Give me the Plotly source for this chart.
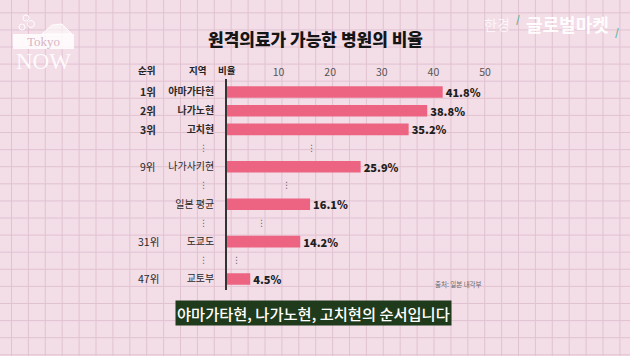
import plotly.graph_objects as go

# ---- data ----
rows = [0, 1, 2, 4, 6, 8, 10]
regions = ["야마가타현", "나가노현", "고치현", "나가사키현", "일본 평균", "도쿄도", "교토부"]
ranks = ["1위", "2위", "3위", "9위", "", "31위", "47위"]
bold_rows = [True, True, True, False, False, False, False]
values = [41.8, 38.8, 35.2, 25.9, 16.1, 14.2, 4.5]
tick_vals = [10, 20, 30, 40, 50]
dot_rows = [3, 5, 7, 9]
dot_x = [16.3, 11.6, 6.6, 1.9]

W, H = 630, 356
FONT = "Noto Sans CJK KR"
BG = "#f3dde7"
GRID = "#e1c2d1"
BAR = "#ec6482"


def px(x):
    return x / W


def py(y):
    return 1 - y / H


fig = go.Figure()

fig.add_trace(go.Bar(
    x=values, y=rows, orientation="h",
    marker=dict(color=BAR, line=dict(width=0)),
    width=0.62,
    texttemplate="%{x}%", textposition="outside", constraintext="none",
    textfont=dict(family=FONT, size=11, color="#1e1e1e", weight=900),
    cliponaxis=False, hoverinfo="skip",
))

ticktext = [f"<b>{r}</b>" if b else r for r, b in zip(regions, bold_rows)]

fig.update_layout(
    width=W, height=H, autosize=False,
    margin=dict(l=0, r=0, t=0, b=0),
    paper_bgcolor=BG, plot_bgcolor="rgba(0,0,0,0)",
    showlegend=False,
    font=dict(family=FONT, color="#333"),
    xaxis=dict(domain=[px(227), px(614)], range=[0, 75], side="top",
               tickvals=tick_vals, ticks="", showgrid=False, zeroline=False,
               showline=False, tickfont=dict(size=10.5, color="#555"),
               fixedrange=True),
    yaxis=dict(domain=[py(290.2), py(78.9)], range=[10.6, -0.7],
               tickvals=rows, ticktext=ticktext, ticks="",
               ticklabelstandoff=9, showgrid=False, zeroline=False,
               showline=True, linecolor="#333", linewidth=1.5,
               tickfont=dict(size=10, color="#2a2a2a"), fixedrange=True),
)

shapes = []
# background grid paper
x = 11.5
while x < W:
    shapes.append(dict(type="line", xref="paper", yref="paper", x0=px(x), x1=px(x),
                       y0=0, y1=1, line=dict(color=GRID, width=1), layer="below"))
    x += 16.9
y = 12.8
while y < H:
    shapes.append(dict(type="line", xref="paper", yref="paper", x0=0, x1=1,
                       y0=py(y), y1=py(y), line=dict(color=GRID, width=1), layer="below"))
    y += 17.1

# Tokyo NOW logo
shapes.append(dict(type="rect", xref="paper", yref="paper", x0=px(13), x1=px(74),
                   y0=py(49), y1=py(34), fillcolor="rgba(255,255,255,0.85)",
                   line=dict(width=0), layer="below"))
shapes.append(dict(type="path", xref="paper", yref="paper",
                   path=f"M {px(42)} {py(34)} L {px(52)} {py(25)} L {px(62)} {py(24)} L {px(72)} {py(34)} Z",
                   fillcolor="rgba(255,255,255,0.6)", line=dict(color="rgba(255,255,255,0.9)", width=1),
                   layer="below"))
for cx, cy, r in [(26, 18, 3), (31, 24, 3.5), (22, 27, 3)]:
    shapes.append(dict(type="circle", xref="paper", yref="paper",
                       x0=px(cx - r), x1=px(cx + r), y0=py(cy + r), y1=py(cy - r),
                       line=dict(color="rgba(255,255,255,0.9)", width=1), layer="below"))

fig.update_layout(shapes=shapes)

C = dict(xanchor="center", yanchor="middle", showarrow=False)
ann = []
# title
ann.append(dict(text="원격의료가 가능한 병원의 비율", x=px(315), y=py(38),
                xref="paper", yref="paper", **C,
                font=dict(family=FONT, size=17, color="#151515", weight=900)))
# header
for t, xx in [("순위", 146), ("지역", 197), ("비율", 227)]:
    ann.append(dict(text=f"<b>{t}</b>", x=px(xx), y=py(70), xref="paper", yref="paper",
                    **C, font=dict(family=FONT, size=9.5, color="#222")))
# rank labels
for rk, rw, b in zip(ranks, rows, bold_rows):
    if rk:
        ann.append(dict(text=f"<b>{rk}</b>" if b else rk, x=px(148), y=rw,
                        xref="paper", yref="y", **C,
                        font=dict(family=FONT, size=10.5, color="#2a2a2a")))
# ellipsis dots
for rw, dx in zip(dot_rows, dot_x):
    ann.append(dict(text="⋮", x=px(203), y=rw, xref="paper", yref="y", **C,
                    font=dict(family="DejaVu Sans", size=9, color="#666")))
    ann.append(dict(text="⋮", x=dx, y=rw, xref="x", yref="y", **C,
                    font=dict(family="DejaVu Sans", size=9, color="#666")))
# source
ann.append(dict(text="출처: 일본 내각부", x=px(458), y=py(284), xref="paper", yref="paper",
                **C, font=dict(family=FONT, size=6.5, color="#666")))
# subtitle
ann.append(dict(text="야마가타현, 나가노현, 고치현의 순서입니다", x=px(313.5), y=py(313),
                xref="paper", yref="paper", **C, bgcolor="#1f3b1b",
                borderpad=1, font=dict(family=FONT, size=15.3, color="white", weight=500)))
# logo texts
ann.append(dict(text="Tokyo", x=px(43.5), y=py(41.5), xref="paper", yref="paper", **C,
                font=dict(family="Liberation Serif", size=13, color="#d9b3c4")))
ann.append(dict(text="NOW", x=px(43.5), y=py(61), xref="paper", yref="paper", **C,
                font=dict(family="Liberation Serif", size=23, color="rgba(255,255,255,0.9)")))
ann.append(dict(text="한경", x=px(497), y=py(24), xref="paper", yref="paper", **C,
                font=dict(family=FONT, size=14, color="rgba(255,255,255,0.75)")))
ann.append(dict(text="<b>글로벌마켓</b>", x=px(567), y=py(24), xref="paper", yref="paper",
                **C, font=dict(family=FONT, size=18, color="rgba(255,255,255,0.95)")))
ann.append(dict(text="<b>/</b>", x=px(518), y=py(18), xref="paper", yref="paper", **C,
                font=dict(family=FONT, size=10, color="#5ab89a")))
ann.append(dict(text="<b>/</b>", x=px(617), y=py(31), xref="paper", yref="paper", **C,
                font=dict(family=FONT, size=10, color="#5ab89a")))

fig.update_layout(annotations=ann)
fig.write_html("out.html", config={"displayModeBar": False},
               post_script="document.body.style.margin='0';document.body.style.overflow='hidden';")
